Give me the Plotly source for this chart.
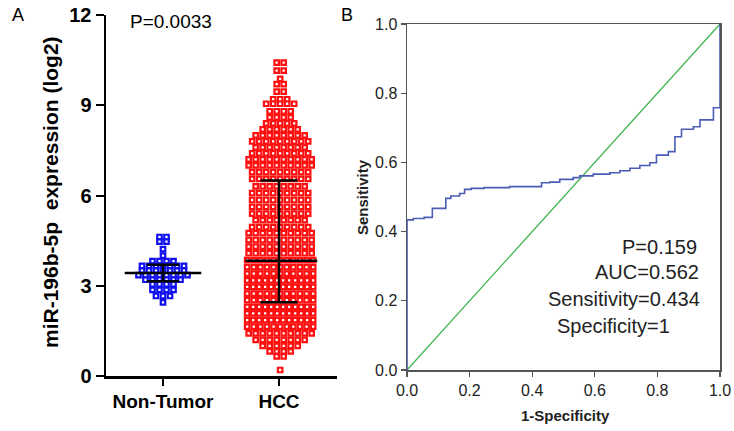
import plotly.graph_objects as go

# ---------------- data ----------------
groups = ["Non-Tumor", "HCC"]

# Non-Tumor: value levels (log2) and number of samples at each level
nt_levels = [4.62, 4.47, 4.22, 4.00, 3.82, 3.66, 3.50, 3.35, 3.20, 3.05, 2.86, 2.66, 2.45]
nt_counts = [2, 2, 1, 1, 4, 7, 7, 8, 6, 4, 4, 3, 1]

# HCC: value levels (log2) and number of samples at each level
hcc_levels = [10.42, 10.15, 9.88, 9.70, 9.45, 9.20, 9.05, 8.80, 8.60, 8.40, 8.20, 8.00,
              7.80, 7.60, 7.40, 7.20, 7.00, 6.78, 6.55, 6.30, 6.08, 5.85, 5.62, 5.40,
              5.18, 4.95, 4.75, 4.52, 4.30, 4.08, 3.85, 3.62, 3.40, 3.18, 2.96, 2.74,
              2.52, 2.30, 2.08, 1.86, 1.64, 1.42, 1.20, 1.00, 0.82, 0.65, 0.20]
hcc_counts = [2, 2, 1, 2, 2, 3, 5, 4, 4, 5, 6, 8,
              9, 8, 9, 10, 10, 9, 9, 8, 9, 9, 9, 9,
              8, 9, 10, 10, 10, 10, 11, 11, 11, 12, 12, 11,
              11, 12, 12, 12, 11, 10, 8, 6, 4, 2, 1]

# summary lines: centre, upper, lower
nt_center, nt_upper, nt_lower = 3.42, 3.70, 3.15
hcc_center, hcc_upper, hcc_lower = 3.83, 6.50, 2.45

# ROC curve (1-specificity, sensitivity)
roc_fpr = [0.0, 0.0, 0.02, 0.055, 0.081, 0.124, 0.14, 0.168, 0.184, 0.205, 0.247,
           0.328, 0.43, 0.456, 0.488, 0.531, 0.552, 0.595, 0.648, 0.68, 0.712,
           0.744, 0.776, 0.797, 0.835, 0.856, 0.877, 0.915, 0.936, 0.979, 1.0, 1.0]
roc_tpr = [0.0, 0.434, 0.438, 0.441, 0.467, 0.496, 0.503, 0.51, 0.522, 0.525, 0.527,
           0.53, 0.541, 0.543, 0.551, 0.556, 0.561, 0.566, 0.57, 0.576, 0.583,
           0.591, 0.599, 0.621, 0.631, 0.674, 0.696, 0.703, 0.723, 0.758, 0.758, 1.0]
ref_x = [0, 1]
ref_y = [0, 1]

# ---------------- geometry ----------------
W, H = 734, 431
PX_PER_UNIT = 116.0          # category spacing in pixels on panel A


def fx(px):
    return px / W


def fy(py):
    return 1 - py / H


def swarm(levels, counts, center, max_w_px=66.0, step_px=7.0):
    xs, ys = [], []
    for v, n in zip(levels, counts):
        sp = step_px if n <= 1 else min(step_px, max_w_px / (n - 1))
        for i in range(n):
            off = (i - (n - 1) / 2.0) * sp
            xs.append(center + off / PX_PER_UNIT)
            ys.append(v)
    return xs, ys


nt_x, nt_y = swarm(nt_levels, nt_counts, 0, max_w_px=60)
hcc_x, hcc_y = swarm(hcc_levels, hcc_counts, 1.01, max_w_px=66)

fig = go.Figure()

marker_common = dict(symbol="square", size=4.5, color="white")
fig.add_trace(go.Scatter(x=nt_x, y=nt_y, mode="markers", xaxis="x", yaxis="y",
                         marker=dict(**marker_common, line=dict(color="#1010ee", width=2.2)),
                         hoverinfo="skip"))
fig.add_trace(go.Scatter(x=hcc_x, y=hcc_y, mode="markers", xaxis="x", yaxis="y",
                         marker=dict(**marker_common, line=dict(color="#ff0f0f", width=2.2)),
                         hoverinfo="skip"))


def summary_lines(c, center, upper, lower, half_mean, half_cap, shift=0.0):
    xs = [c - half_mean + shift, c + half_mean + shift, None,
          c, c, None,
          c - half_cap, c + half_cap, None,
          c - half_cap, c + half_cap]
    ys = [center, center, None,
          lower, upper, None,
          upper, upper, None,
          lower, lower]
    return xs, ys


sx, sy = summary_lines(0, nt_center, nt_upper, nt_lower, 0.33, 0.14)
fig.add_trace(go.Scatter(x=sx, y=sy, mode="lines", xaxis="x", yaxis="y",
                         line=dict(color="black", width=2.5), hoverinfo="skip"))
sx, sy = summary_lines(1, hcc_center, hcc_upper, hcc_lower, 0.31, 0.16, shift=0.02)
fig.add_trace(go.Scatter(x=sx, y=sy, mode="lines", xaxis="x", yaxis="y",
                         line=dict(color="black", width=2.5), hoverinfo="skip"))

# ROC panel
fig.add_trace(go.Scatter(x=ref_x, y=ref_y, mode="lines", xaxis="x2", yaxis="y2",
                         line=dict(color="#3cb44a", width=1.3), hoverinfo="skip"))
fig.add_trace(go.Scatter(x=roc_fpr, y=roc_tpr, mode="lines", xaxis="x2", yaxis="y2",
                         line=dict(color="#4a5cb4", width=1.6, shape="hv"), hoverinfo="skip"))

FONT = "Arial, Liberation Sans, sans-serif"

# panel pixel geometry (page pixels)
a_l, a_r, a_t, a_b = 106, 337, 15, 376
b_l, b_r, b_t, b_b = 407, 720, 24, 370

fig.update_layout(
    template="none",
    width=W, height=H, margin=dict(l=0, r=0, t=0, b=0, autoexpand=False),
    paper_bgcolor="white", plot_bgcolor="white", showlegend=False,
    font=dict(family=FONT, color="black"),
    xaxis=dict(domain=[fx(a_l), fx(a_r)], range=[(a_l - 163) / PX_PER_UNIT, (a_r - 163) / PX_PER_UNIT],
               tickmode="array", tickvals=[0, 1], ticktext=groups, automargin=False,
               ticklabeloverflow="allow",
               showline=True, linecolor="black", linewidth=2.5,
               ticks="outside", ticklen=7, tickwidth=2, tickcolor="black",
               showgrid=False, zeroline=False,
               tickfont=dict(size=19, family=FONT, color="black", weight="bold"), anchor="y"),
    yaxis=dict(domain=[fy(a_b), fy(a_t)], range=[0, 12],
               tickmode="array", tickvals=[0, 3, 6, 9, 12], automargin=False,
               ticklabeloverflow="allow",
               showline=True, linecolor="black", linewidth=2.5,
               ticks="outside", ticklen=8, tickwidth=2, tickcolor="black",
               showgrid=False, zeroline=False,
               tickfont=dict(size=20, family=FONT, color="black", weight="bold"), anchor="x"),
    xaxis2=dict(domain=[fx(b_l), fx(b_r)], range=[0, 1], automargin=False,
                ticklabeloverflow="allow",
                tickmode="array", tickvals=[0, 0.2, 0.4, 0.6, 0.8, 1.0], tickformat=".1f",
                showline=True, mirror=True, linecolor="#555555", linewidth=1.5,
                ticks="outside", ticklen=5, tickwidth=1.3, tickcolor="#555555",
                showgrid=False, zeroline=False,
                tickfont=dict(size=16, family=FONT, color="#222222"), anchor="y2"),
    yaxis2=dict(domain=[fy(b_b), fy(b_t)], range=[0, 1], automargin=False,
                ticklabeloverflow="allow",
                tickmode="array", tickvals=[0, 0.2, 0.4, 0.6, 0.8, 1.0], tickformat=".1f",
                showline=True, mirror=True, linecolor="#555555", linewidth=1.5,
                ticks="outside", ticklen=5, tickwidth=1.3, tickcolor="#555555",
                showgrid=False, zeroline=False,
                tickfont=dict(size=16, family=FONT, color="#222222"), anchor="x2"),
)


def ann(text, px, py, size, xanchor="center", bold=False, angle=0, color="black"):
    fig.add_annotation(text=text, x=fx(px), y=fy(py), xref="paper", yref="paper",
                       showarrow=False, xanchor=xanchor, yanchor="middle", textangle=angle,
                       font=dict(size=size, family=FONT, color=color,
                                 weight="bold" if bold else "normal"))


ann("A", 18, 15, 18)
ann("B", 347, 15, 18)
ann("P=0.0033", 171, 22, 19)
ann("miR-196b-5p  expression (log2)", 50, 192, 21, bold=True, angle=-90)
ann("Sensitivity", 362, 197, 15, bold=True, angle=-90, color="#222222")
ann("1-Specificity", 565, 415, 15, bold=True, color="#222222")
ann("P=0.159", 699, 247, 20, xanchor="right", color="#222222")
ann("AUC=0.562", 701, 272, 20, xanchor="right", color="#222222")
ann("Sensitivity=0.434", 702, 299, 20, xanchor="right", color="#222222")
ann("Specificity=1", 555, 326, 20, xanchor="left", color="#222222")

fig.write_html("out.html",
               config={"displayModeBar": False, "staticPlot": True},
               post_script="document.body.style.margin='0';document.body.style.overflow='hidden';")
